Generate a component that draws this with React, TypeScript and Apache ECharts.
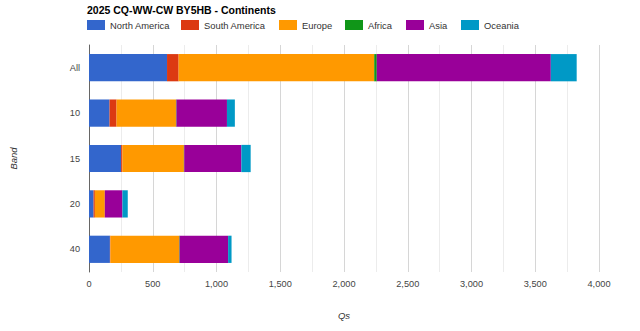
import React, { useEffect, useRef } from "react";
import * as echarts from "echarts";

const categories = ["All", "10", "15", "20", "40"];
const northAmerica = [612, 161, 252, 36, 164];
const southAmerica = [91, 55, 10, 10, 4];
const europe = [1534, 466, 482, 78, 539];
const africa = [20, 4, 3, 0, 4];
const asia = [1365, 396, 448, 138, 380];
const oceania = [203, 62, 73, 42, 27];

const seriesNames = ["North America", "South America", "Europe", "Africa", "Asia", "Oceania"];
const seriesData = [northAmerica, southAmerica, europe, africa, asia, oceania];
const colors = ["#3366cc", "#dc3912", "#ff9900", "#109618", "#990099", "#0099c6"];
const legendLefts = [87, 181, 279, 345, 406, 461];

const FONT = "'Liberation Sans', Arial, sans-serif";

export default function App() {
  const ref = useRef<HTMLDivElement>(null);
  useEffect(() => {
    document.body.style.margin = "0";
    const chart = echarts.init(ref.current!, null, { renderer: "svg" });
    chart.setOption({
      animation: false,
      color: colors,
      textStyle: { fontFamily: FONT },
      title: {
        text: "2025 CQ-WW-CW BY5HB - Continents",
        left: 87,
        top: 4,
        padding: 0,
        textStyle: { fontSize: 10.5, fontWeight: "bold", color: "#000", fontFamily: FONT },
      },
      legend: seriesNames.map((n, i) => ({
        data: [n],
        left: legendLefts[i],
        top: 20,
        itemWidth: 18,
        itemHeight: 10,
        icon: "rect",
        padding: 0,
        textStyle: { fontSize: 9.4, color: "#333", fontFamily: FONT },
      })),
      grid: { left: 87, right: 41, top: 45, bottom: 59 },
      xAxis: {
        type: "value",
        min: 0,
        max: 4000,
        interval: 500,
        name: "Qs",
        nameLocation: "middle",
        nameGap: 38,
        nameTextStyle: { fontStyle: "italic", fontSize: 9.5, color: "#333", fontFamily: FONT },
        axisLine: { show: false },
        axisTick: { show: false },
        axisLabel: {
          fontSize: 9.2,
          color: "#444",
          margin: 7,
          fontFamily: FONT,
          formatter: (v: number) => v.toLocaleString("en-US"),
        },
        splitLine: { show: true, lineStyle: { color: "#d6d6d6", width: 1 } },
        minorTick: { show: false, splitNumber: 2 },
        minorSplitLine: { show: true, lineStyle: { color: "#ececec", width: 1 } },
      },
      yAxis: {
        type: "category",
        data: categories,
        inverse: true,
        name: "Band",
        nameLocation: "middle",
        nameGap: 71,
        nameRotate: 90,
        nameTextStyle: { fontStyle: "italic", fontSize: 9.5, color: "#333", fontFamily: FONT },
        axisLine: { show: true, lineStyle: { color: "#666", width: 1 } },
        axisTick: { show: false },
        axisLabel: { fontSize: 9.2, color: "#444", margin: 9, fontFamily: FONT },
        splitLine: { show: false },
      },
      series: seriesNames.map((n, i) => ({
        name: n,
        type: "bar",
        stack: "total",
        data: seriesData[i],
        barCategoryGap: "40%",
        itemStyle: { color: colors[i] },
      })),
    });
    return () => chart.dispose();
  }, []);
  return (
    <div
      ref={ref}
      style={{ position: "absolute", left: 0, top: 0, width: 640, height: 331, background: "#fff" }}
    />
  );
}
